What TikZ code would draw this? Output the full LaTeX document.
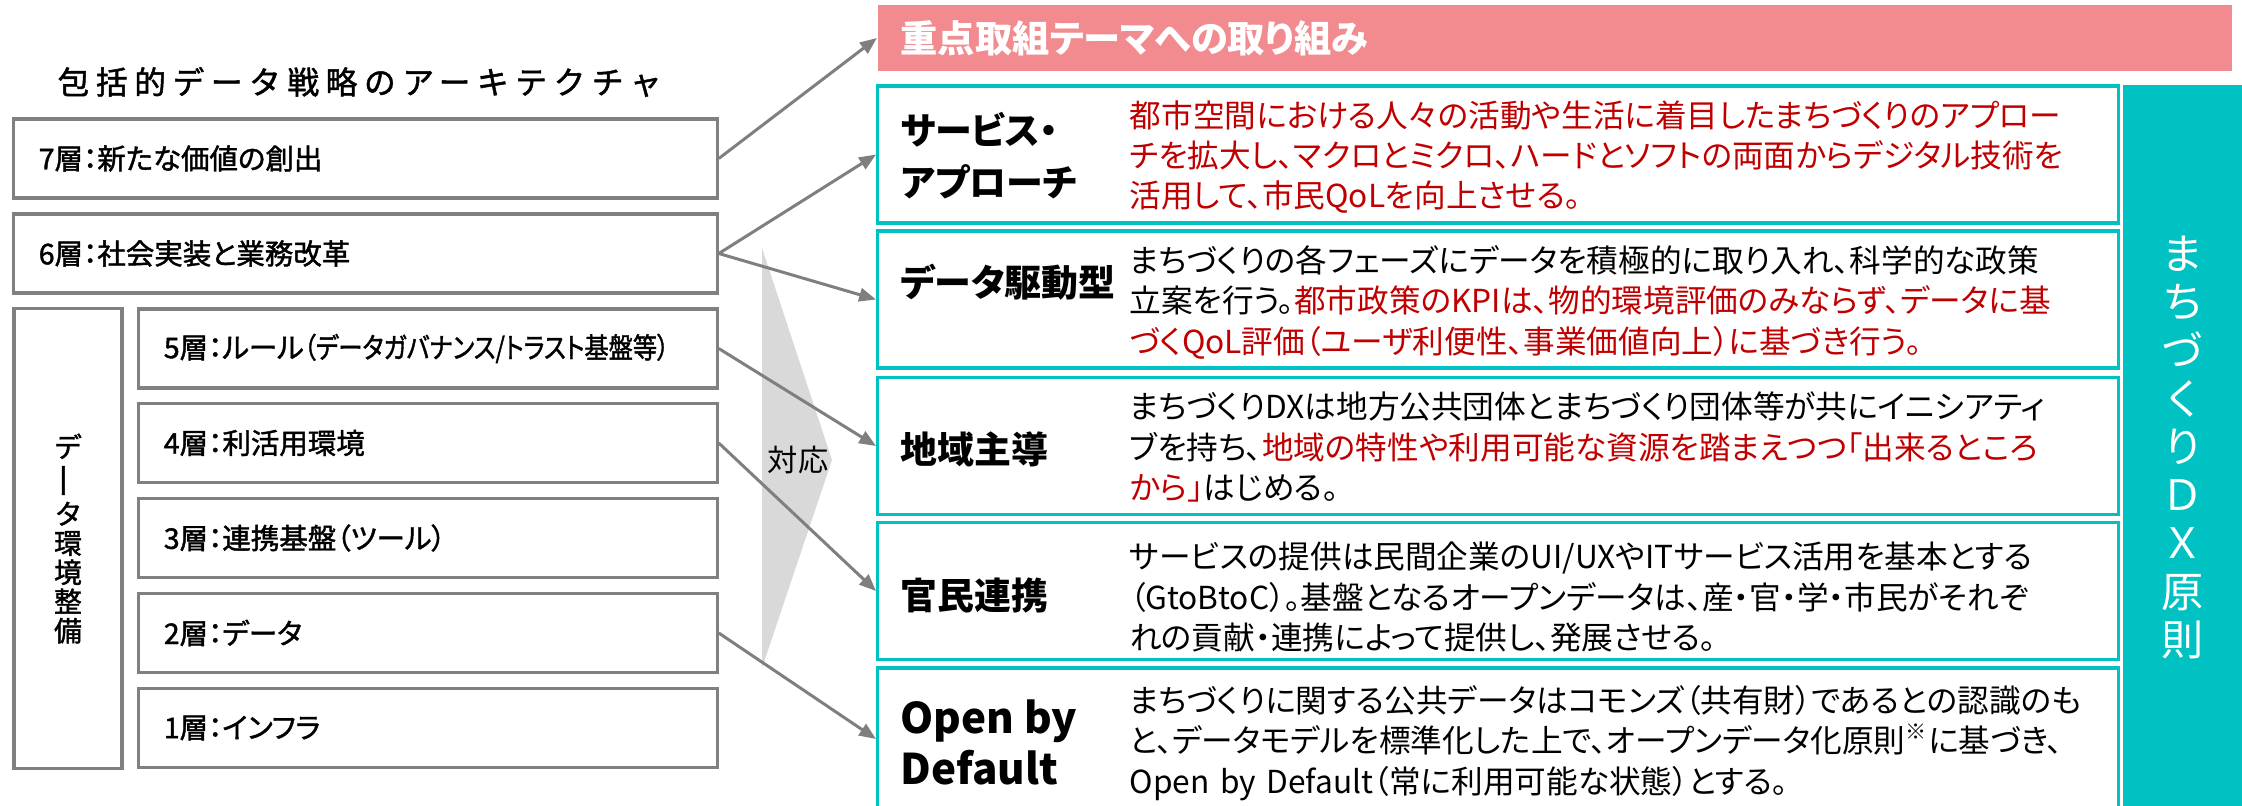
\documentclass[tikz,border=0pt]{standalone}
\usepackage{fontspec}
\usepackage{graphicx}
\setmainfont{Noto Sans CJK JP}[RawFeature=+palt]
\newfontfamily\medfont{Noto Sans CJK JP}[RawFeature=+palt, FakeBold=1.5]
\newfontfamily\spacedfont{Noto Sans CJK JP}[LetterSpace=21, FakeBold=1.5]
\usetikzlibrary{arrows.meta}
\setlength{\parindent}{0pt}
\newcommand{\setfs}[2]{\fontsize{#1}{#2}\selectfont}
\definecolor{boxgray}{HTML}{808080}
\definecolor{arrgray}{HTML}{7F7F7F}
\definecolor{trigray}{HTML}{D9D9D9}
\definecolor{dxteal}{HTML}{00C2C2}
\definecolor{headpink}{HTML}{F28B90}
\definecolor{dxred}{HTML}{C00000}
\tikzset{
  lbox/.style={draw=boxgray, line width=0.9pt, minimum height=0.79cm, inner xsep=0.25cm, inner ysep=0pt, align=left, font=\medfont\setfs{8.1pt}{9.5pt}},
  envbox/.style={draw=boxgray, line width=0.9pt, minimum width=1.08cm, minimum height=4.59cm, inner sep=0pt, align=center, font=\medfont\setfs{7.9pt}{8.3pt}},
  pbox/.style={draw=dxteal, line width=0.9pt, minimum width=12.4cm, minimum height=1.37cm, inner sep=0pt},
  ptitle/.style={anchor=west, align=left, inner sep=0pt, font=\bfseries\setfs{10.5pt}{14.8pt}},
  pdesc/.style={anchor=west, text width=10.5cm, align=left, inner sep=0pt, font=\setfs{9pt}{11.5pt}},
  conn/.style={draw=arrgray, line width=0.85pt, -{Triangle[length=4.8pt,width=3.8pt]}}
}
\begin{document}
\begin{tikzpicture}[x=0.01cm, y=-0.01cm]
    \useasboundingbox (0,0) rectangle (2242,806);

    % left: architecture
    \node[anchor=west, inner sep=0pt] (arch) at (57,82) {\spacedfont\setfs{9pt}{10pt}包括的データ戦略のアーキテクチャ};
    \node[lbox, text width=6.53cm] (l7) at (365.5,158.5) {7層：新たな価値の創出};
    \node[lbox, text width=6.53cm] (l6) at (365.5,253.5) {6層：社会実装と業務改革};
    \node[lbox, text width=5.28cm] (l5) at (428,348.5) {5層：ルール\scalebox{0.85}[1]{（データガバナンス/トラスト基盤等）}};
    \node[lbox, text width=5.28cm] (l4) at (428,443) {4層：利活用環境};
    \node[lbox, text width=5.28cm] (l3) at (428,538) {3層：連携基盤（ツール）};
    \node[lbox, text width=5.28cm] (l2) at (428,633) {2層：データ};
    \node[lbox, text width=5.28cm] (l1) at (428,728) {1層：インフラ};
    \node[envbox] (env) at (68,538.5) {デ\\\rotatebox[origin=c]{90}{\scalebox{1.3}[1]{ー}}\\タ\\環\\境\\整\\備};

    % middle
    \fill[trigray] (762,248) -- (832,460) -- (762,668) -- cycle;
    \node[font=\setfs{8.6pt}{10pt}] (taio) at (798,460) {対応};

    % right: principles
    \node[fill=headpink, minimum width=13.54cm, minimum height=0.66cm, inner sep=0pt] (head) at (1555,38) {};
    \node[anchor=west, inner sep=0pt, text=white, font=\bfseries\setfs{10.6pt}{12pt}] at (900,38) {重点取組テーマへの取り組み};
    \node[fill=dxteal, minimum width=1.19cm, minimum height=7.25cm, inner sep=0pt, align=center, text=white, font=\setfs{12pt}{13.7pt}] (dx) at (2182.5,447.5) {ま\\ち\\づ\\く\\り\\Ｄ\\Ｘ\\原\\則};

    \node[pbox] (p1) at (1498,154.5) {};
    \node[pbox] (p2) at (1498,299.5) {};
    \node[pbox] (p3) at (1498,446) {};
    \node[pbox] (p4) at (1498,591) {};
    \node[pbox, minimum height=1.42cm] (p5) at (1498,739) {};

    \node[ptitle] at (900,156) {サービス・\\アプローチ};
    \node[ptitle] at (900,282) {データ駆動型};
    \node[ptitle] at (900,449) {地域主導};
    \node[ptitle] at (900,595) {官民連携};
    \node[ptitle, font=\bfseries\setfs{12pt}{14.5pt}] at (900,742) {Open by\\Default};

    \node[pdesc, text=dxred] at (1129,157) {都市空間における人々の活動や生活に着目したまちづくりのアプロー\\チを拡大し、マクロとミクロ、ハードとソフトの両面からデジタル技術を\\活用して、市民QoLを向上させる。};
    \node[pdesc] at (1129,302) {まちづくりの各フェーズにデータを積極的に取り入れ、科学的な政策\\立案を行う。{\color{dxred}都市政策のKPIは、物的環境評価のみならず、データに基\\づくQoL評価（ユーザ利便性、事業価値向上）に基づき行う。}};
    \node[pdesc] at (1129,447) {まちづくりDXは地方公共団体とまちづくり団体等が共にイニシアティ\\ブを持ち、{\color{dxred}地域の特性や利用可能な資源を踏まえつつ「出来るところ\\から」}はじめる。};
    \node[pdesc] at (1129,597) {サービスの提供は民間企業のUI/UXやITサービス活用を基本とする\\（GtoBtoC）。基盤となるオープンデータは、産・官・学・市民がそれぞ\\れの貢献・連携によって提供し、発展させる。};
    \node[pdesc] at (1129,743) {まちづくりに関する公共データはコモンズ（共有財）であるとの認識のも\\と、データモデルを標準化した上で、オープンデータ化原則\textsuperscript{※}に基づき、\\Open by Default（常に利用可能な状態）とする。};

    \draw[conn] (l7.east) -- (head.west);
    \draw[conn] (l6.east) -- (p1.west);
    \draw[conn] (l6.east) -- (p2.west);
    \draw[conn] (l5.east) -- (p3.west);
    \draw[conn] (l4.east) -- (p4.west);
    \draw[conn] (l2.east) -- (p5.west);
\end{tikzpicture}
\end{document}
